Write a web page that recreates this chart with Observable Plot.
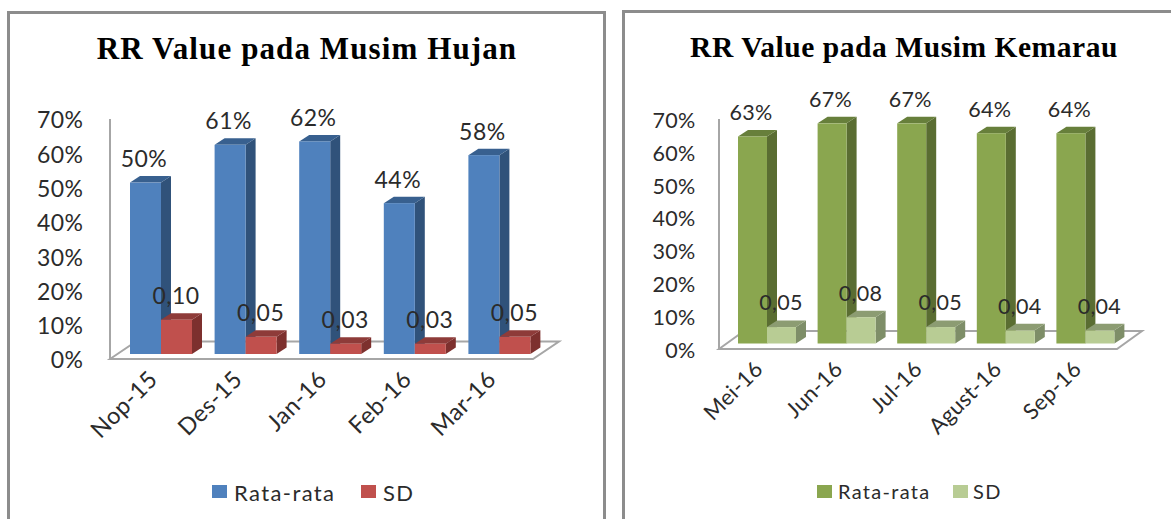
<!DOCTYPE html>
<html><head><meta charset="utf-8">
<script src="https://cdn.jsdelivr.net/npm/d3@7"></script>
<script src="https://cdn.jsdelivr.net/npm/@observablehq/plot@0.6"></script>
<style>
html,body{margin:0;padding:0;background:#fff;width:1171px;height:519px;overflow:hidden}
.panel{position:absolute;box-sizing:border-box;border:3px solid #8c8c8c;border-bottom:none;background:#fff}
.panel svg{position:absolute;left:0;top:0}
.title{position:absolute;font:bold 29px "Liberation Serif",serif;color:#000;white-space:nowrap;transform:translateX(-50%)}
.leg{position:absolute;font:19px Lato,sans-serif;color:#2b2b2b;white-space:nowrap}
.sw{position:absolute}
</style></head><body>
<div id="root"></div>
<script>
const hujanMonths = ["Nop-15","Des-15","Jan-16","Feb-16","Mar-16"];
const hujanMean = [50,61,62,44,58];
const hujanSD = [10,5,3,3,5];
const hujanMeanLabels = ["50%","61%","62%","44%","58%"];
const hujanSDLabels = ["0,10","0,05","0,03","0,03","0,05"];
const kemarauMonths = ["Mei-16","Jun-16","Jul-16","Agust-16","Sep-16"];
const kemarauMean = [63,67,67,64,64];
const kemarauSD = [5,8,5,4,4];
const kemarauMeanLabels = ["63%","67%","67%","64%","64%"];
const kemarauSDLabels = ["0,05","0,08","0,05","0,04","0,04"];
const yTicks = [0,10,20,30,40,50,60,70];

function chart(o){
  const panel = document.createElement("div");
  panel.className = "panel";
  Object.assign(panel.style,{left:o.px+"px",top:o.py+"px",width:o.pw+"px",height:o.ph+"px"});
  if (o.noRight) panel.style.borderRight = "none";
  document.getElementById("root").appendChild(panel);
  const off = 3; // frame border
  const W = o.pw - 2*off, H = o.ph - off;
  const ox = o.px + off, oy = o.py + off;
  const rows = (vals, labels) => o.months.map((m,i)=>({m, v:vals[i], l:labels[i]}));
  const A = rows(o.mean,o.meanLabels), B = rows(o.sd,o.sdLabels);
  const bw = (o.x1-o.x0)/5, gap = (bw-2*o.bar)/2;
  const ns = "http://www.w3.org/2000/svg";
  const extrude = (front, side, top) => function(index, scales, values, dims, ctx, next){
    const g = next(index, scales, values, dims, ctx);
    const wrap = document.createElementNS(ns,"g");
    const m = /translate\(([-\d.]+),([-\d.]+)\)/.exec(g.getAttribute("transform")||"")||[0,0,0];
    for (const r of g.querySelectorAll("rect")){
      const w=+r.getAttribute("width"), h=+r.getAttribute("height");
      const X=+r.getAttribute("x")+ +m[1], Y=+r.getAttribute("y")+ +m[2];
      const p=(pts,f)=>{const e=document.createElementNS(ns,"polygon");e.setAttribute("points",pts.map(q=>q.join(",")).join(" "));e.setAttribute("fill",f);wrap.appendChild(e);};
      p([[X+w,Y],[X+w+o.depthX,Y-o.depthY],[X+w+o.depthX,Y+h-o.depthY],[X+w,Y+h]],side);
      p([[X,Y],[X+o.depthX,Y-o.depthY],[X+w+o.depthX,Y-o.depthY],[X+w,Y]],top);
    }
    wrap.appendChild(g);
    return wrap;
  };
  const floor = (index, {x,y}) => {
    const [a,b]=x.range(), y0=y(0);
    const e=document.createElementNS(ns,"polygon");
    e.setAttribute("points",[[a,y0],[a+o.floorX,y0-o.floorY],[b+o.floorX,y0-o.floorY],[b,y0]].map(q=>q.join(",")).join(" "));
    e.setAttribute("fill","#fff");e.setAttribute("stroke","#a6a6a6");e.setAttribute("stroke-width",2);
    return e;
  };
  const wall = (index, {x,y}) => {
    const a=x.range()[0];
    const e=document.createElementNS(ns,"line");
    e.setAttribute("x1",a);e.setAttribute("x2",a);e.setAttribute("y1",y(70));e.setAttribute("y2",y(0));
    e.setAttribute("stroke","#a6a6a6");e.setAttribute("stroke-width",2);
    return e;
  };
  const svg = Plot.plot({
    width:W, height:H,
    marginLeft:o.x0-ox, marginRight:W-(o.x1-ox), marginTop:o.yTop-oy, marginBottom:H-(o.y0-oy),
    style:{background:"transparent",fontFamily:"Lato, sans-serif",overflow:"visible",letterSpacing:o.ls+"px"},
    x:{type:"band",domain:o.months,padding:0,round:false,label:null},
    y:{domain:[0,70],label:null},
    marks:[
      floor,
      wall,
      Plot.barY(A,{x:"m",y:"v",fill:o.c1[0],dx:o.shiftX,dy:-o.shiftY,insetLeft:gap,insetRight:gap+o.bar,render:extrude(...o.c1)}),
      Plot.barY(B,{x:"m",y:"v",fill:o.c2[0],dx:o.shiftX,dy:-o.shiftY,insetLeft:gap+o.bar,insetRight:gap,render:extrude(...o.c2)}),
      Plot.axisY({ticks:yTicks,tickFormat:d=>d+"%",tickSize:0,tickPadding:o.tickPad,dy:o.yDy,fontSize:o.fs,fill:"#2b2b2b",label:null,line:false}),
      Plot.axisX({tickRotate:-45,tickSize:0,tickPadding:o.xPad,dx:o.xDx,fontSize:o.xfs,fill:"#2b2b2b",label:null}),
      Plot.text(A,{x:"m",y:"v",text:"l",fontSize:o.fs,fill:"#2b2b2b",dx:o.shiftX-o.bar/2-2,dy:-o.shiftY-23.5}),
      Plot.text(B,{x:"m",y:"v",text:"l",fontSize:o.fs,fill:"#2b2b2b",dx:o.shiftX+o.bar/2-1,dy:-o.shiftY-24})
    ]
  });
  panel.appendChild(svg);
  const t=document.createElement("div");t.className="title";t.textContent=o.title;
  Object.assign(t.style,{left:(o.tx-ox)+"px",top:(o.ty-oy)+"px",fontSize:o.tfs+"px",letterSpacing:o.tls+"px"});
  panel.appendChild(t);
  o.legend.forEach(l=>{
    const s=document.createElement("div");s.className="sw";
    Object.assign(s.style,{left:(l.sx-ox)+"px",top:(o.legY-oy)+"px",width:"15px",height:"13px",background:l.c});
    panel.appendChild(s);
    const d=document.createElement("div");d.className="leg";d.textContent=l.t;
    Object.assign(d.style,{left:(l.tx-ox)+"px",top:(o.legY-oy-6)+"px",fontSize:o.lfs+"px",letterSpacing:o.lls+"px"});
    panel.appendChild(d);
  });
}
const legendNames = ["Rata-rata","SD"];
chart({px:7,py:11,pw:599,ph:508,months:hujanMonths,mean:hujanMean,sd:hujanSD,meanLabels:hujanMeanLabels,sdLabels:hujanSDLabels,
  x0:110,x1:533,yTop:119,y0:359,bar:31,depthX:10,depthY:6.5,floorX:26,floorY:17.5,shiftX:8.7,shiftY:5,
  c1:["#4f81bd","#30527a","#38608f"],c2:["#c0504d","#7d302e","#8e3b39"],
  fs:23,xfs:23.5,ls:0.5,tickPad:27,yDy:1.5,xPad:16,xDx:1,
  title:"RR Value pada Musim Hujan",tx:307,ty:31,tfs:31,tls:1.1,lfs:22,lls:1.4,legY:485,
  legend:[{t:legendNames[0],c:"#4f81bd",sx:212,tx:234},{t:legendNames[1],c:"#c0504d",sx:361,tx:383}]});
chart({px:622,py:10,pw:600,ph:509,noRight:true,months:kemarauMonths,mean:kemarauMean,sd:kemarauSD,meanLabels:kemarauMeanLabels,sdLabels:kemarauSDLabels,
  x0:719,x1:1117,yTop:119,y0:349,bar:29,depthX:10,depthY:6.5,floorX:25,floorY:18,shiftX:8.2,shiftY:5.5,
  c1:["#8aa64f","#5a6d32","#677f3b"],c2:["#b8cc94","#7e8e68","#8c9c72"],
  fs:21.5,xfs:22,ls:0.3,tickPad:24,yDy:1.5,xPad:16,xDx:0,
  title:"RR Value pada Musim Kemarau",tx:904,ty:31,tfs:29.5,tls:0.55,lfs:20,lls:1.3,legY:485,
  legend:[{t:legendNames[0],c:"#8aa64f",sx:817,tx:838},{t:legendNames[1],c:"#b8cc94",sx:953,tx:973}]});
</script></body></html>
